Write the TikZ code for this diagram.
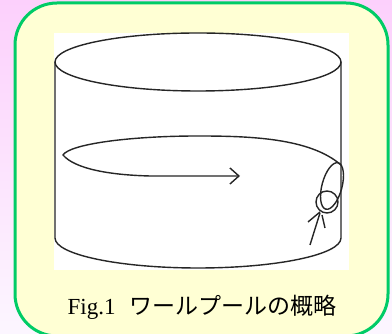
\documentclass[tikz,border=0pt]{standalone}
\usepackage{fontspec}
\setmainfont{Liberation Serif}
\newfontfamily\jpfont{Noto Sans CJK JP}
\usetikzlibrary{arrows.meta}
\definecolor{bgtop}{RGB}{252,208,252}
\definecolor{bgbot}{RGB}{252,246,255}
\definecolor{panel}{RGB}{255,255,212}
\definecolor{rim}{RGB}{0,204,102}
\tikzset{
  pen/.style={line width=1.4pt, black!85},
}
\begin{document}
\begin{tikzpicture}[x=1pt, y=1pt]
\useasboundingbox (0,0) rectangle (392,334);
\shade[top color=bgtop, bottom color=bgbot] (0,0) rectangle (392,334);
\draw[rim, fill=panel, line width=3pt, rounded corners=42pt] (15,-2) rectangle (388,331);
\fill[white] (54,64) rectangle (349,301);
% tank
\draw[pen] (198,272) ellipse [x radius=143, y radius=29];
\draw[pen] (55,272) -- (55,96) arc[start angle=180, end angle=360, x radius=143, y radius=30] -- (341,272);
% swirl
\draw[pen, -{Straight Barb[length=9pt, width=16pt]}] (341,169) .. controls (310,196) and (250,198) .. (198,198)
  .. controls (130,198) and (70,190) .. (63,179) .. controls (75,165) and (110,159) .. (150,158) -- (240,158);
% swimmer
\draw[pen] (332,148) ellipse [x radius=10, y radius=24, rotate=-15];
\draw[pen] (327,132) circle (11);
\draw[pen] (320,121) -- (310,89);
\draw[pen] (320,122) -- (308,112);
\draw[pen] (322,119) -- (325,106);
\node (caption) at (202,27) {\fontsize{23}{26}\selectfont Fig.1\hspace{0.6em}\jpfont ワールプールの概略};
\end{tikzpicture}
\end{document}
